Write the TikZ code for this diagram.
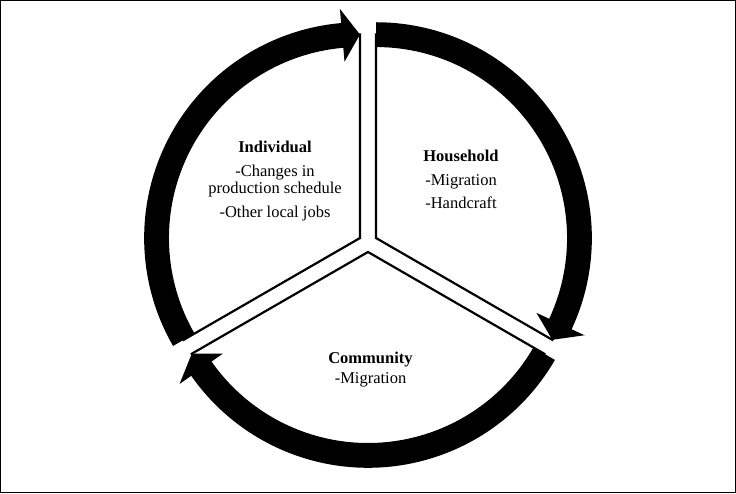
\documentclass[tikz,border=0pt]{standalone}
\usepackage{fontspec}
\setmainfont{Liberation Serif}
\begin{document}
\begin{tikzpicture}[x=1pt,y=1pt]
\tikzset{
  sector/.style={draw=black, line width=2.2pt, line join=miter, fill=white},
  band/.style={fill=black},
  lbl/.style={align=center, inner sep=0pt, anchor=north, font=\fontsize{16.5}{17}\selectfont}
}
\useasboundingbox (0,0) rectangle (736,493);
\draw[line width=1pt] (0.5,0.5) rectangle (735.5,492.5);
% vertices of the three sectors
\coordinate (VL) at (359.95,254.95);
\coordinate (VR) at (376.05,254.95);
\coordinate (VB) at (368,241);
% pies
\begin{scope}[shift={(VL)}]
  \draw[sector] (0,0) -- (90:203.5pt) arc[start angle=90,end angle=210,radius=203.5pt] -- cycle;
\end{scope}
\begin{scope}[shift={(VR)}]
  \draw[sector] (0,0) -- (90:203.5pt) arc[start angle=90,end angle=-30,radius=203.5pt] -- cycle;
\end{scope}
\begin{scope}[shift={(VB)}]
  \draw[sector] (0,0) -- (210:203.5pt) arc[start angle=210,end angle=330,radius=203.5pt] -- cycle;
\end{scope}
% arrows
\begin{scope}[shift={(VL)}]
  \fill[band] (210:215.8pt) arc[start angle=210,end angle=95,radius=215.8pt] -- (95:230pt) -- (90:203.5pt) -- (95:177pt) -- (95:191pt) arc[start angle=95,end angle=210,radius=191pt] -- cycle;
\end{scope}
\begin{scope}[shift={(VR)}]
  \fill[band] (90:215.8pt) arc[start angle=90,end angle=-25,radius=215.8pt] -- (-25:230pt) -- (-30:203.5pt) -- (-25:177pt) -- (-25:191pt) arc[start angle=-25,end angle=90,radius=191pt] -- cycle;
\end{scope}
\begin{scope}[shift={(VB)}]
  \fill[band] (330:215.8pt) arc[start angle=330,end angle=215,radius=215.8pt] -- (215:230pt) -- (210:203.5pt) -- (215:177pt) -- (215:191pt) arc[start angle=215,end angle=330,radius=191pt] -- cycle;
\end{scope}
% labels
\node[lbl] (individual) at (275,352.3) {\textbf{Individual}\\[7pt]-Changes in\\production schedule\\[7pt]-Other local jobs};
\node[lbl] (household) at (461,343.3) {\textbf{Household}\\[7pt]-Migration\\[6pt]-Handcraft};
\node[lbl] (community) at (370.5,141.2) {\textbf{Community}\\[3pt]-Migration};
\end{tikzpicture}
\end{document}
